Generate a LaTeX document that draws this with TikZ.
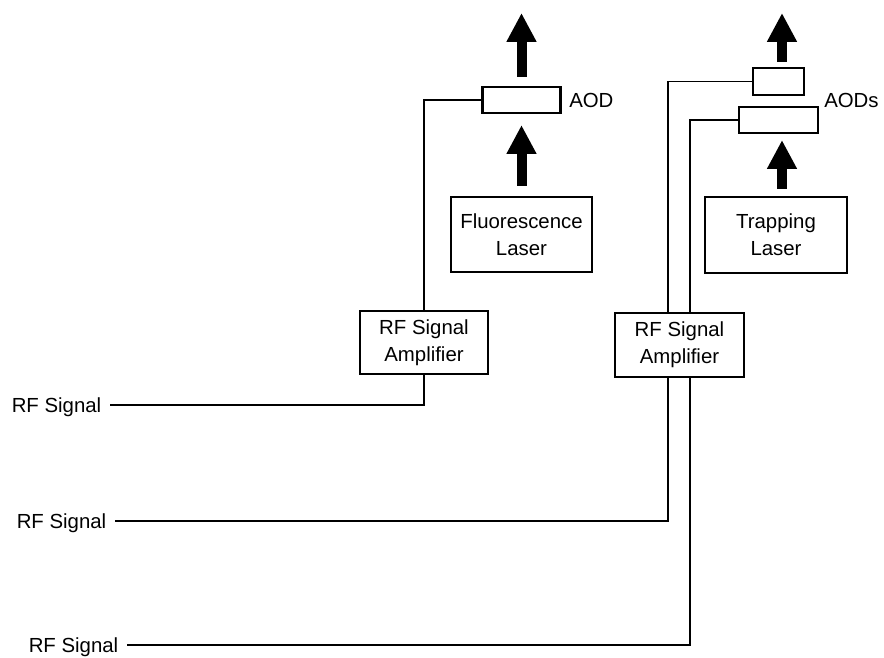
\documentclass[tikz,border=0pt]{standalone}
\usepackage{fontspec}
\setmainfont{Liberation Sans}
\usetikzlibrary{arrows.meta, positioning}

\begin{document}
\begin{tikzpicture}[x=0.025cm, y=-0.025cm,
    font=\fontsize{14.5}{19}\selectfont,
    devbox/.style={rectangle, draw, line width=1.5pt, fill=white, align=center, inner sep=0pt},
    aodbox/.style={devbox, minimum height=0.65cm},
    wire/.style={line width=1.2pt},
    beam/.style={line width=0.25cm, -{Triangle[length=0.72cm, width=0.7cm]}},
    sig/.style={inner xsep=6pt, inner ysep=0pt, text height=10.4pt, text depth=0pt, anchor=east},
    tag/.style={inner sep=0pt, text height=10.4pt, text depth=0pt, anchor=west}]
  \useasboundingbox (0,0) rectangle (884,658);
  % Fluorescence branch
  \node[aodbox, minimum width=1.95cm] (aod) at (521.5,100) {};
  \node[tag] (aodtag) at (569,100) {AOD};
  \node[devbox, minimum width=3.525cm, minimum height=1.875cm] (fluo) at (521.5,234.5) {Fluorescence\\Laser};
  \node[devbox, minimum width=3.2cm, minimum height=1.575cm] (ampA) at (424,342.5) {RF Signal\\Amplifier};
  \node[sig] (rfA) at (110,405) {RF Signal};
  % Trapping branch
  \node[aodbox, minimum width=1.275cm, minimum height=0.675cm] (aodU) at (778.5,81.5) {};
  \node[aodbox, minimum width=1.975cm] (aodL) at (778.5,120) {};
  \node[tag] (aodstag) at (824,100) {AODs};
  \node[devbox, minimum width=3.55cm, minimum height=1.9cm] (trap) at (776,235) {Trapping\\Laser};
  \node[devbox, minimum width=3.225cm, minimum height=1.6cm] (ampB) at (679.5,345) {RF Signal\\Amplifier};
  \node[sig] (rfB) at (115,521) {RF Signal};
  \node[sig] (rfC) at (127,645) {RF Signal};
  \coordinate (feedU) at (668,0);
  \coordinate (feedL) at (690,0);
  \coordinate (beamR) at (782,0);
  \coordinate (outA) at (521.5,13);
  \coordinate (outB) at (782,13);
  % Beams
  \draw[beam, shorten <=0.25cm, shorten >=0.275cm] (fluo.north) -- (aod.south);
  \draw[beam, shorten <=0.225cm] (aod.north) -- (outA);
  \draw[beam, shorten <=0.175cm, shorten >=0.15cm] (trap.north -| beamR) -- (aodL.south -| beamR);
  \draw[beam, shorten <=0.125cm] (aodU.north -| beamR) -- (outB);
  % Wires
  \draw[wire] (aod.west) -| (ampA.north);
  \draw[wire] (ampA.south) |- (rfA.east);
  \draw[wire] (aodU.west) -| (feedU |- ampB.north);
  \draw[wire] (aodL.west) -| (feedL |- ampB.north);
  \draw[wire] (feedU |- ampB.south) |- (rfB.east);
  \draw[wire] (feedL |- ampB.south) |- (rfC.east);
\end{tikzpicture}
\end{document}
